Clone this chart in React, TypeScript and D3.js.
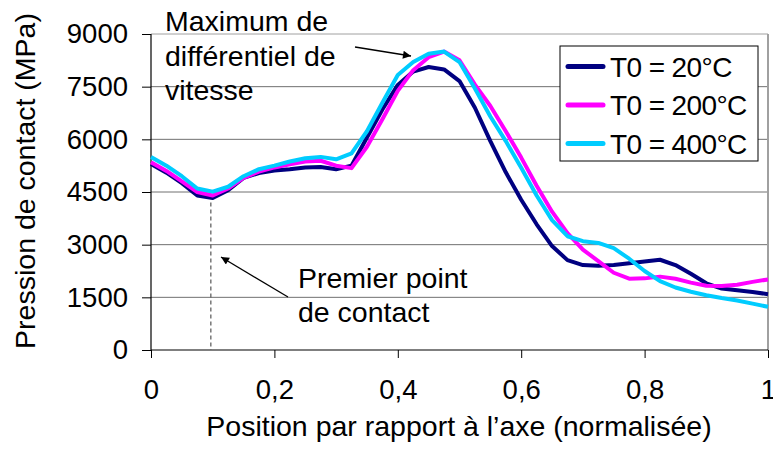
import React, { useEffect, useRef } from "react";
import * as d3 from "d3";

// normalised position along the axis
const positions = [
  0, 0.025, 0.05, 0.075, 0.1, 0.125, 0.15, 0.175, 0.2, 0.225, 0.25, 0.275, 0.3,
  0.325, 0.35, 0.375, 0.4, 0.425, 0.45, 0.475, 0.5, 0.525, 0.55, 0.575, 0.6,
  0.625, 0.65, 0.675, 0.7, 0.725, 0.75, 0.775, 0.8, 0.825, 0.85, 0.875, 0.9,
  0.925, 0.95, 0.975, 1,
];

// contact pressure (MPa)
const t20 = [
  5300, 5050, 4750, 4400, 4330, 4550, 4900, 5040, 5110, 5150, 5200, 5210, 5150,
  5250, 6050, 6850, 7550, 7930, 8060, 7990, 7660, 6900, 5950, 5060, 4280,
  3580, 2960, 2560, 2420, 2400, 2420, 2470, 2520, 2570, 2420, 2170, 1900,
  1750, 1700, 1650, 1590,
];
const t200 = [
  5350, 5100, 4800, 4500, 4400, 4600, 4900, 5080, 5200, 5290, 5370, 5390, 5250,
  5180, 5790, 6570, 7380, 7970, 8340, 8500, 8250, 7560, 6950, 6230, 5480,
  4680, 3940, 3330, 2860, 2530, 2200, 2030, 2040, 2090, 2030, 1920, 1830,
  1820, 1860, 1940, 2010,
];
const t400 = [
  5500, 5250, 4950, 4600, 4510, 4650, 4950, 5150, 5250, 5370, 5460, 5500, 5430,
  5600, 6230, 7040, 7830, 8200, 8440, 8500, 8200, 7450, 6650, 5950, 5190,
  4400, 3700, 3240, 3100, 3050, 2900, 2600, 2250, 1960, 1780, 1660, 1560,
  1480, 1410, 1320, 1230,
];

const seriesNames = ["T0 = 20°C", "T0 = 200°C", "T0 = 400°C"];
const seriesColors = ["#000080", "#ff00ff", "#00ccff"];
const yTicks = [0, 1500, 3000, 4500, 6000, 7500, 9000];
const xTicks = [0, 0.2, 0.4, 0.6, 0.8, 1];
const firstContact = 0.097;

const FONT = "'Liberation Sans', Arial, sans-serif";

const App: React.FC = () => {
  const svgRef = useRef<SVGSVGElement | null>(null);

  useEffect(() => {
    if (!svgRef.current) return;
    const svg = d3.select(svgRef.current);
    svg.selectAll("*").remove();

    const left = 151, right = 768, top = 34, bottom = 350;
    const x = d3.scaleLinear().domain([0, 1]).range([left, right]);
    const y = d3.scaleLinear().domain([0, 9000]).range([bottom, top]);

    const defs = svg.append("defs");
    defs.append("marker")
      .attr("id", "arrow")
      .attr("viewBox", "0 0 10 10")
      .attr("refX", 10)
      .attr("refY", 5)
      .attr("markerWidth", 10)
      .attr("markerHeight", 8)
      .attr("markerUnits", "userSpaceOnUse")
      .attr("orient", "auto")
      .append("path")
      .attr("d", "M0,0 L10,5 L0,10 z")
      .attr("fill", "#000");

    // gridlines
    svg.append("g")
      .selectAll("line")
      .data(yTicks.filter(d => d > 0))
      .enter()
      .append("line")
      .attr("x1", left)
      .attr("x2", right)
      .attr("y1", d => y(d))
      .attr("y2", d => y(d))
      .attr("stroke", d => (d === 9000 ? "#a0a0a0" : "#707070"))
      .attr("stroke-width", 1);

    svg.append("line")
      .attr("x1", right).attr("x2", right)
      .attr("y1", top).attr("y2", bottom)
      .attr("stroke", "#a0a0a0").attr("stroke-width", 2);

    // axes
    const yAxis = svg.append("g")
      .attr("transform", `translate(${left},0)`)
      .call(d3.axisLeft(y).tickValues(yTicks).tickSize(9).tickPadding(14).tickFormat(d3.format("d")));
    const xAxis = svg.append("g")
      .attr("transform", `translate(0,${bottom})`)
      .call(d3.axisBottom(x).tickValues(xTicks).tickSize(8).tickPadding(21)
        .tickFormat(d => (d as number) === 0 || (d as number) === 1 ? String(d) : String(d).replace(".", ",")));
    [yAxis, xAxis].forEach(a => {
      a.select(".domain").attr("stroke", "#000").attr("stroke-width", 1.2);
      a.selectAll(".tick line").attr("stroke", "#000");
      a.selectAll(".tick text")
        .attr("fill", "#000")
        .style("font-family", FONT)
        .style("font-size", "27.5px");
    });
    yAxis.select(".domain").attr("d", `M0,${bottom}V${top}`);
    xAxis.select(".domain").attr("d", `M${left},0H${right}`);

    // first contact marker
    svg.append("line")
      .attr("x1", x(firstContact)).attr("x2", x(firstContact))
      .attr("y1", y(4200)).attr("y2", bottom)
      .attr("stroke", "#555").attr("stroke-width", 1.2)
      .attr("stroke-dasharray", "4,3");

    // curves
    const allSeries = [t20, t200, t400];
    const line = d3.line<number>()
      .x((_, i) => x(positions[i]))
      .y(d => y(d));
    svg.append("g")
      .selectAll("path")
      .data(allSeries)
      .enter()
      .append("path")
      .attr("d", d => line(d))
      .attr("fill", "none")
      .attr("stroke", (_, i) => seriesColors[i])
      .attr("stroke-width", 4)
      .attr("stroke-linejoin", "round");

    // annotations
    const ann = svg.append("g").style("font-family", FONT).style("font-size", "28.5px");
    ["Maximum de", "différentiel de", "vitesse"].forEach((t, i) => {
      ann.append("text").attr("x", 165).attr("y", 31 + i * 34.5).text(t);
    });
    ["Premier point", "de contact"].forEach((t, i) => {
      ann.append("text").attr("x", 298).attr("y", 288 + i * 34).text(t);
    });
    svg.append("line")
      .attr("x1", 355).attr("y1", 47).attr("x2", 411).attr("y2", 56)
      .attr("stroke", "#000").attr("stroke-width", 1.3)
      .attr("marker-end", "url(#arrow)");
    svg.append("line")
      .attr("x1", 288).attr("y1", 297).attr("x2", 221).attr("y2", 257)
      .attr("stroke", "#000").attr("stroke-width", 1.3)
      .attr("marker-end", "url(#arrow)");

    // legend
    const lg = svg.append("g");
    lg.append("rect")
      .attr("x", 560).attr("y", 46).attr("width", 198).attr("height", 115)
      .attr("fill", "#fff").attr("stroke", "#000").attr("stroke-width", 1);
    seriesNames.forEach((name, i) => {
      const cy = 66.5 + i * 38.5;
      lg.append("line")
        .attr("x1", 568).attr("x2", 603).attr("y1", cy).attr("y2", cy)
        .attr("stroke", seriesColors[i]).attr("stroke-width", 5)
        .attr("stroke-linecap", "round");
      lg.append("text")
        .attr("x", 610).attr("y", cy + 10)
        .style("font-family", FONT).style("font-size", "28px")
        .style("letter-spacing", "-0.6px")
        .text(name);
    });

    // axis titles
    svg.append("text")
      .attr("transform", `translate(35,181) rotate(-90)`)
      .attr("text-anchor", "middle")
      .style("font-family", FONT).style("font-size", "28.5px")
      .text("Pression de contact (MPa)");
    svg.append("text")
      .attr("x", 459).attr("y", 436)
      .attr("text-anchor", "middle")
      .style("font-family", FONT).style("font-size", "28.5px")
      .text("Position par rapport à l’axe (normalisée)");
  }, []);

  return (
    <div style={{ position: "absolute", left: 0, top: 0, background: "#fff" }}>
      <svg ref={svgRef} width={773} height={453}></svg>
    </div>
  );
};

export default App;
